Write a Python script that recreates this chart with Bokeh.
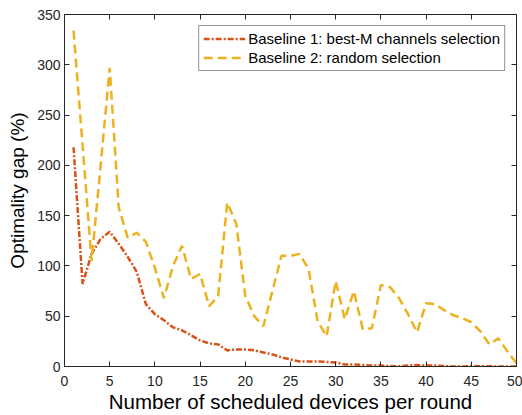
from bokeh.plotting import figure
from bokeh.models import LinearAxis, Range1d, FixedTicker, Legend, LegendItem, CustomLabelingPolicy
from bokeh.embed import file_html
from bokeh.resources import INLINE

x_devices = list(range(1, 51))
baseline1 = [218, 82, 112, 127, 134, 122, 109, 94, 62, 52,
             46, 39, 36, 31, 26, 23, 22, 16, 17, 17,
             16, 14, 12, 9, 7, 5, 5, 5, 4.5, 4,
             2, 2, 1.5, 1, 1, 0.5, 0.3, 1, 1.5, 1,
             1, 0.5, 0, 0, 0.5, 0.3, 0.2, 0, 0, 0]
baseline2 = [334, 220, 105, 200, 297, 158, 128, 133, 124, 98,
             68, 100, 120, 87, 92, 60, 70, 163, 142, 70,
             50, 40, 75, 110, 110, 112, 97, 45, 30, 85,
             47, 75, 37, 38, 81, 79, 68, 52, 34, 63,
             62, 56, 51, 48, 44, 35, 22, 28, 15, 3]
label1 = "Baseline 1: best-M channels selection"
label2 = "Baseline 2: random selection"
x_ticks = [0, 5, 10, 15, 20, 25, 30, 35, 40, 45, 50]
y_ticks = [0, 50, 100, 150, 200, 250, 300, 350]

FONT = "Liberation Sans"
AX = "#262626"

p = figure(width=522, height=415, output_backend="svg", toolbar_location=None,
           x_range=Range1d(0, 50), y_range=Range1d(0, 350),
           min_border_left=64, min_border_right=6, min_border_top=14, min_border_bottom=49)
p.xgrid.visible = False
p.ygrid.visible = False
p.outline_line_color = AX
p.outline_line_width = 1
p.background_fill_color = "white"

r1 = p.line(x_devices, baseline1, line_color="#D95319", line_width=2.5, line_dash="6 2 2 2")
r2 = p.line(x_devices, baseline2, line_color="#EDB120", line_width=2.5, line_dash="9 5")

for ax, lbl, fs in ((p.xaxis[0], "Number of scheduled devices per round", "20.5px"),
                    (p.yaxis[0], "Optimality gap (%)", "19px")):
    ax.axis_label = lbl
    ax.axis_label_text_font = FONT
    ax.axis_label_text_font_size = fs
    ax.axis_label_text_font_style = "normal"
    ax.axis_label_text_color = "black"
    ax.major_label_text_font = FONT
    ax.major_label_text_font_size = "14px"
    ax.major_label_text_color = AX
    ax.axis_line_color = AX
    ax.major_tick_line_color = AX
    ax.major_tick_in = 5
    ax.major_tick_out = 0
    ax.minor_tick_line_color = None
p.xaxis[0].ticker = FixedTicker(ticks=x_ticks)
p.yaxis[0].ticker = FixedTicker(ticks=y_ticks)
p.xaxis[0].major_label_standoff = 9
p.xaxis[0].axis_label_standoff = 1
p.yaxis[0].axis_label_standoff = 6
p.yaxis[0].major_label_standoff = 4

hide_labels = CustomLabelingPolicy(code="""
for (let i = 0; i < indices.size; i++) { indices.unset(i) }
return indices
""")
top = LinearAxis(ticker=FixedTicker(ticks=x_ticks), major_label_text_font_size="1px",
                 major_label_policy=hide_labels,
                 major_tick_in=5, major_tick_out=0, minor_tick_line_color=None,
                 axis_line_color=AX, major_tick_line_color=AX, major_label_standoff=0)
right = LinearAxis(ticker=FixedTicker(ticks=y_ticks), major_label_text_font_size="1px",
                   major_label_policy=hide_labels,
                   major_tick_in=5, major_tick_out=0, minor_tick_line_color=None,
                   axis_line_color=AX, major_tick_line_color=AX, major_label_standoff=0)
p.add_layout(top, "above")
p.add_layout(right, "right")

legend = Legend(items=[LegendItem(label=label1, renderers=[r1]),
                       LegendItem(label=label2, renderers=[r2])],
                location="top_right")
legend.margin = 11
legend.padding = 4
legend.spacing = 2
legend.label_text_font = FONT
legend.label_text_font_size = "15px"
legend.label_text_color = "black"
legend.label_height = 17
legend.glyph_height = 17
legend.glyph_width = 42
legend.label_standoff = 3
legend.border_line_color = AX
legend.border_line_width = 1
legend.background_fill_color = "white"
legend.background_fill_alpha = 1
p.add_layout(legend)

open("out.html", "w").write(file_html(p, INLINE))
